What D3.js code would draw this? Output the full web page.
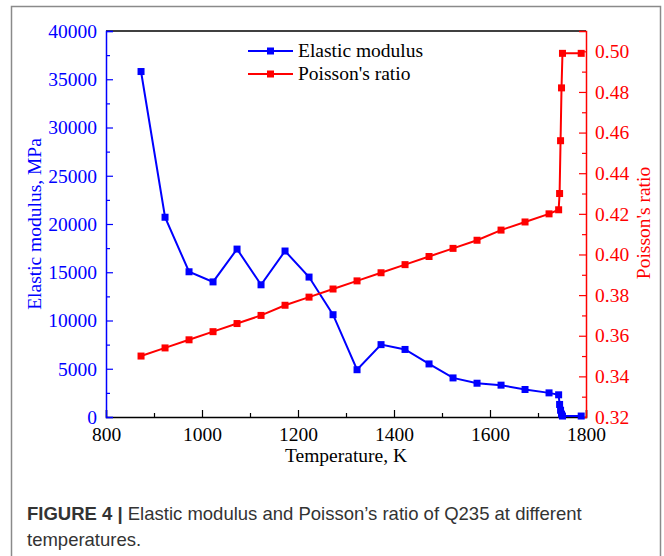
<!DOCTYPE html>
<html>
<head>
<meta charset="utf-8">
<script src="https://cdn.jsdelivr.net/npm/d3@7"></script>
<style>
  body { margin: 0; background: #fff; }
</style>
</head>
<body>
<svg id="chart" width="664" height="556"></svg>
<script>
// data
const temps = [873, 923, 973, 1023, 1073, 1123, 1173, 1223, 1273, 1323, 1373, 1423, 1473, 1523, 1573, 1623, 1673, 1723, 1743, 1745, 1747, 1749, 1751, 1790];
const modulus = [35800, 20700, 15050, 14000, 17400, 13700, 17200, 14500, 10600, 4900, 7500, 7000, 5500, 4050, 3500, 3300, 2850, 2500, 2300, 1300, 700, 300, 100, 100];
const poisson = [0.350, 0.354, 0.358, 0.362, 0.366, 0.370, 0.375, 0.379, 0.383, 0.387, 0.391, 0.395, 0.399, 0.403, 0.407, 0.412, 0.416, 0.420, 0.422, 0.430, 0.456, 0.482, 0.499, 0.499];

const xTicks = [800, 1000, 1200, 1400, 1600, 1800];
const xMinor = [900, 1100, 1300, 1500, 1700];
const yLeftTicks = [0, 5000, 10000, 15000, 20000, 25000, 30000, 35000, 40000];
const yLeftMinor = [2500, 7500, 12500, 17500, 22500, 27500, 32500, 37500];
const yRightTicks = [0.32, 0.34, 0.36, 0.38, 0.40, 0.42, 0.44, 0.46, 0.48, 0.50];
const yRightMinor = [0.33, 0.35, 0.37, 0.39, 0.41, 0.43, 0.45, 0.47, 0.49];

const BLUE = "#0000ff", RED = "#ff0000";
const SERIF = "'Liberation Serif', 'Times New Roman', serif";
const svg = d3.select("#chart");

// outer frame of the figure
svg.append("rect")
  .attr("x", 11.5).attr("y", 6.5)
  .attr("width", 649).attr("height", 560)
  .attr("fill", "none").attr("stroke", "#8a8a8a").attr("stroke-width", 1.5);

const plotL = 106, plotR = 586, plotT = 31, plotB = 417;

const x = d3.scaleLinear().domain([800, 1800]).range([plotL, plotR]);
const yL = d3.scaleLinear().domain([0, 40000]).range([plotB, plotT]);
const yR = d3.scaleLinear().domain([0.32, 0.51]).range([plotB, plotT]);

// top frame line
svg.append("line")
  .attr("x1", plotL).attr("x2", plotR).attr("y1", plotT).attr("y2", plotT)
  .attr("stroke", "#000").attr("stroke-width", 1.5);

// styles one axis: major ticks with labels, minor ticks without
function styleAxis(g, color) {
  g.attr("font-family", null).attr("font-size", null);
  g.select(".domain").attr("stroke", color).attr("stroke-width", 1.5);
  g.selectAll(".tick line").attr("stroke", color).attr("stroke-width", 1.2);
  g.selectAll("text")
    .attr("fill", color)
    .style("font-family", SERIF)
    .style("font-size", "19.5px");
}
function minor(axis, pos, color) {
  svg.append("g").attr("transform", pos)
    .call(axis.tickSize(-4).tickFormat(""))
    .call(g => g.select(".domain").remove())
    .selectAll("line").attr("stroke", color).attr("stroke-width", 1.2);
}

// x axis
svg.append("g")
  .attr("transform", `translate(0,${plotB})`)
  .call(d3.axisBottom(x).tickValues(xTicks).tickSize(-7).tickPadding(10).tickFormat(d3.format("d")))
  .call(g => styleAxis(g, "#000"));
minor(d3.axisBottom(x).tickValues(xMinor), `translate(0,${plotB})`, "#000");

// left axis
svg.append("g")
  .attr("transform", `translate(${plotL},0)`)
  .call(d3.axisLeft(yL).tickValues(yLeftTicks).tickSize(-7).tickPadding(9).tickFormat(d3.format("d")))
  .call(g => styleAxis(g, BLUE));
minor(d3.axisLeft(yL).tickValues(yLeftMinor), `translate(${plotL},0)`, BLUE);

// right axis
svg.append("g")
  .attr("transform", `translate(${plotR},0)`)
  .call(d3.axisRight(yR).tickValues(yRightTicks).tickSize(-7).tickPadding(9).tickFormat(d3.format(".2f")))
  .call(g => styleAxis(g, RED));
minor(d3.axisRight(yR).tickValues(yRightMinor), `translate(${plotR},0)`, RED);

// axis titles
svg.append("text").style("font-family", SERIF)
  .attr("transform", `translate(41,224) rotate(-90)`)
  .attr("text-anchor", "middle").attr("font-size", 19.5).attr("fill", BLUE)
  .text("Elastic modulus, MPa");
svg.append("text").style("font-family", SERIF)
  .attr("transform", `translate(650,223) rotate(-90)`)
  .attr("text-anchor", "middle").attr("font-size", 19.5).attr("fill", RED)
  .text("Poisson's ratio");
svg.append("text").style("font-family", SERIF)
  .attr("x", 346).attr("y", 462)
  .attr("text-anchor", "middle").attr("font-size", 19.5).attr("fill", "#000")
  .text("Temperature, K");

// series
const series = [
  { name: "Elastic modulus", color: BLUE, y: yL, values: modulus },
  { name: "Poisson's ratio", color: RED, y: yR, values: poisson }
];

series.forEach(s => {
  const pts = temps.map((t, i) => [t, s.values[i]]);
  svg.append("path")
    .datum(pts)
    .attr("fill", "none").attr("stroke", s.color).attr("stroke-width", 2)
    .attr("d", d3.line().x(d => x(d[0])).y(d => s.y(d[1])));
  svg.append("g").selectAll("rect")
    .data(pts).join("rect")
    .attr("x", d => x(d[0]) - 3.5).attr("y", d => s.y(d[1]) - 3.5)
    .attr("width", 7).attr("height", 7)
    .attr("fill", s.color);
});

// legend
const legend = svg.append("g").style("font-family", SERIF);
series.forEach((s, i) => {
  const ly = 51 + i * 23;
  legend.append("line")
    .attr("x1", 248).attr("x2", 293).attr("y1", ly).attr("y2", ly)
    .attr("stroke", s.color).attr("stroke-width", 2);
  legend.append("rect")
    .attr("x", 267).attr("y", ly - 3.5).attr("width", 7).attr("height", 7)
    .attr("fill", s.color);
  legend.append("text")
    .attr("x", 298).attr("y", ly + 6)
    .attr("font-size", 19.5).attr("fill", "#000")
    .text(s.name);
});

// caption
const cap = svg.append("text")
  .attr("font-family", "Arial, 'Liberation Sans', sans-serif")
  .attr("font-size", 18.5).attr("fill", "#333");
cap.append("tspan").attr("x", 27).attr("y", 520).attr("font-weight", "bold").text("FIGURE 4 | ");
cap.append("tspan").text("Elastic modulus and Poisson’s ratio of Q235 at different");
cap.append("tspan").attr("x", 27).attr("y", 546).text("temperatures.");
</script>
</body>
</html>
